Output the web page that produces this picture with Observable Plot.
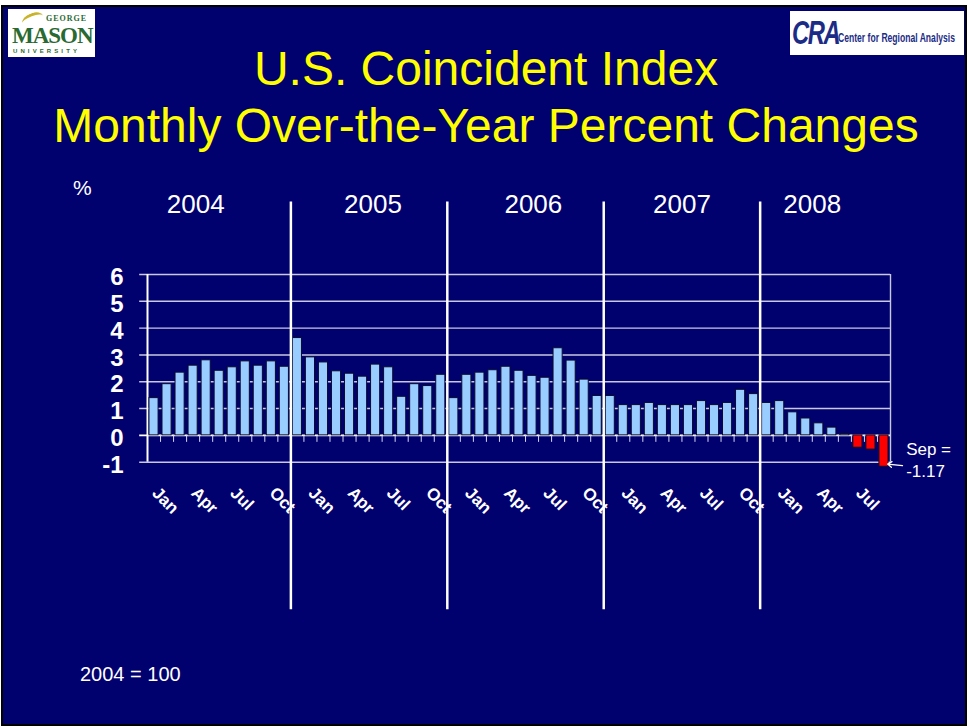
<!DOCTYPE html>
<html>
<head>
<meta charset="utf-8">
<script src="https://cdn.jsdelivr.net/npm/d3@7"></script>
<script src="https://cdn.jsdelivr.net/npm/@observablehq/plot@0.6"></script>
<style>
  html, body { margin: 0; padding: 0; width: 968px; height: 726px; overflow: hidden; background: #ffffff;
    font-family: "Liberation Sans", Arial, sans-serif; position: relative; }
  #slide { position: absolute; left: 1px; top: 5px; width: 962px; height: 717px; background: #00006e; border: 2px solid #000; }
  .abs { position: absolute; }
  #title { left: 0; top: 40px; width: 972px; text-align: center; color: #ffff00; font-size: 48px; line-height: 57px; }
  #pct { left: 73px; top: 176px; color: #fff; font-size: 21px; line-height: 24px; }
  #note { left: 80px; top: 662px; color: #fff; font-size: 20px; line-height: 24px; }
  #chart { left: 0; top: 180px; }
  #gmu { left: 8px; top: 9px; width: 87px; height: 48px; background: #fff; overflow: hidden; }
  #gmu .g1 { position: absolute; left: 38px; top: 5px; font: bold 8px/9px "Liberation Serif", serif; letter-spacing: 1px; color: #2a6a32; }
  #gmu .g2 { position: absolute; left: 4px; top: 16px; font: bold 23px/22px "Liberation Serif", serif; color: #2a6a32; letter-spacing: -1px; }
  #gmu .g3 { position: absolute; left: 5px; top: 39px; font: bold 6px/7px sans-serif; letter-spacing: 3.1px; color: #2a6a32; }
  #gmu .leaf { position: absolute; left: 14px; top: 4px; width: 22px; height: 10px; border-top: 3px solid #c9b32a; border-radius: 50% 50% 0 0; transform: rotate(-20deg); }
  #cra { left: 790px; top: 11px; width: 174px; height: 44px; background: #fff; overflow: hidden; }
  #cra .c1 { position: absolute; left: 2px; top: 4px; font: italic bold 33px/36px "Liberation Sans", sans-serif; color: #1c2c86; letter-spacing: -2px; transform: scaleX(0.72); transform-origin: left top; }
  #cra .c2 { position: absolute; left: 48px; top: 20px; font: bold 13px/14px "Liberation Sans", sans-serif; color: #1c2c86; white-space: nowrap; transform: scaleX(0.66); transform-origin: left top; }
</style>
</head>
<body>
<div id="slide"></div>
<div id="gmu" class="abs"><div class="leaf"></div><div class="g1">GEORGE</div><div class="g2">MASON</div><div class="g3">UNIVERSITY</div></div>
<div id="cra" class="abs"><div class="c1">CRA</div><div class="c2">Center for Regional Analysis</div></div>
<div id="title" class="abs">U.S. Coincident Index<br>Monthly Over-the-Year Percent Changes</div>
<div id="pct" class="abs">%</div>
<div id="chart" class="abs"></div>
<div id="note" class="abs">2004 = 100</div>
<script>
// ---- data ----
const years = [2004, 2005, 2006, 2007, 2008];
const monthNames = ["Jan","Feb","Mar","Apr","May","Jun","Jul","Aug","Sep","Oct","Nov","Dec"];
const values2004 = [1.39, 1.91, 2.34, 2.60, 2.80, 2.41, 2.54, 2.76, 2.60, 2.76, 2.56, 3.63];
const values2005 = [2.91, 2.72, 2.39, 2.30, 2.19, 2.64, 2.54, 1.44, 1.91, 1.84, 2.26, 1.39];
const values2006 = [2.26, 2.34, 2.43, 2.56, 2.41, 2.22, 2.15, 3.25, 2.79, 2.08, 1.47, 1.47];
const values2007 = [1.13, 1.13, 1.21, 1.13, 1.13, 1.13, 1.28, 1.13, 1.21, 1.70, 1.54, 1.21];
const values2008 = [1.28, 0.86, 0.63, 0.45, 0.29, 0.05, -0.46, -0.53, -1.17];
const yTicks = [-1, 0, 1, 2, 3, 4, 5, 6];
const labelMonths = ["Jan", "Apr", "Jul", "Oct"];

const series = [values2004, values2005, values2006, values2007, values2008];
const data = [];
series.forEach((vals, yi) => vals.forEach((v, m) => data.push({i: data.length, year: years[yi], month: monthNames[m], value: v})));
const n = data.length;
const last = data[n - 1];
const monthLabels = data.filter(d => labelMonths.includes(d.month));
// year separators fall at the start of each December band
const separators = years.slice(0, -1).map((y, k) => 12 * (k + 1) - 1);
// year label placement (annotation offsets as in the slide)
const yearLabelOffset = {2004: 3.7, 2005: 5.3, 2006: 5.6, 2007: 5.0, 2008: 3.0};
const yearLabels = years.map((y, k) => ({year: y, x: 12 * k + yearLabelOffset[y]}));

const grid = "#c8c8e2";
const chart = Plot.plot({
  width: 968,
  height: 450,
  marginLeft: 147,
  marginRight: 78,
  marginTop: 94,
  marginBottom: 168.3,
  style: {background: "transparent", color: "#fff", fontFamily: "'Liberation Sans', Arial, sans-serif", overflow: "visible"},
  x: {type: "linear", domain: [0, n], axis: null},
  y: {domain: [-1, 6], axis: null},
  marks: [
    Plot.ruleY(yTicks, {x1: -0.6, x2: n, stroke: d => d === 0 ? "#ffffff" : grid, strokeWidth: d => d === 0 ? 1.6 : 1.4}),
    Plot.ruleX([0], {y1: -1, y2: 6, stroke: "#ffffff", strokeWidth: 2}),
    Plot.ruleX([n], {y1: -1, y2: 6, stroke: grid, strokeWidth: 1.4}),
    Plot.ruleX(d3.range(1, n), {y1: 0, y2: -0.26, stroke: "#d8d8f0", strokeWidth: 1}),
    Plot.rectY(data.filter(d => d.value >= 0), {x1: d => d.i + 0.15, x2: d => d.i + 0.85, y1: 0, y2: "value", fill: "#99ccff", stroke: "#0a0a30", strokeWidth: 1}),
    Plot.rectY(data.filter(d => d.value < 0), {x1: d => d.i + 0.15, x2: d => d.i + 0.85, y1: 0, y2: "value", fill: "#ff0000", stroke: "#0a0a30", strokeWidth: 1}),
    Plot.text(yTicks, {x: 0, y: d => d, text: d => String(d), textAnchor: "end", dx: -24, dy: 3, fontSize: 24, fontWeight: "bold", fill: "#fff"}),
    Plot.text(monthLabels, {x: d => d.i + 0.5, y: -1, text: "month", rotate: 45, textAnchor: "start", lineAnchor: "middle", dx: 1, dy: 28, fontSize: 17, fontWeight: "bold", fill: "#fff"}),
    Plot.ruleX(separators, {y1: -6.5, y2: 8.7, stroke: "#ffffff", strokeWidth: 2.5}),
    Plot.text(yearLabels, {x: "x", y: 8.6, text: d => String(d.year), fontSize: 26, fill: "#fff"}),
    Plot.arrow([last], {x1: d => d.i + 1.92, y1: d => d.value + 0.04, x2: d => d.i + 0.78, y2: d => d.value + 0.1, stroke: "#fff", strokeWidth: 1.3, headLength: 9, headAngle: 70}),
    Plot.text([last], {x: d => d.i + 2.2, y: d => d.value + 0.29, text: d => `${d.month} =\n${d.value.toFixed(2)}`, textAnchor: "start", lineAnchor: "middle", lineHeight: 1.3, fontSize: 17, fill: "#fff"})
  ]
});
document.getElementById("chart").appendChild(chart);
</script>
</body>
</html>
